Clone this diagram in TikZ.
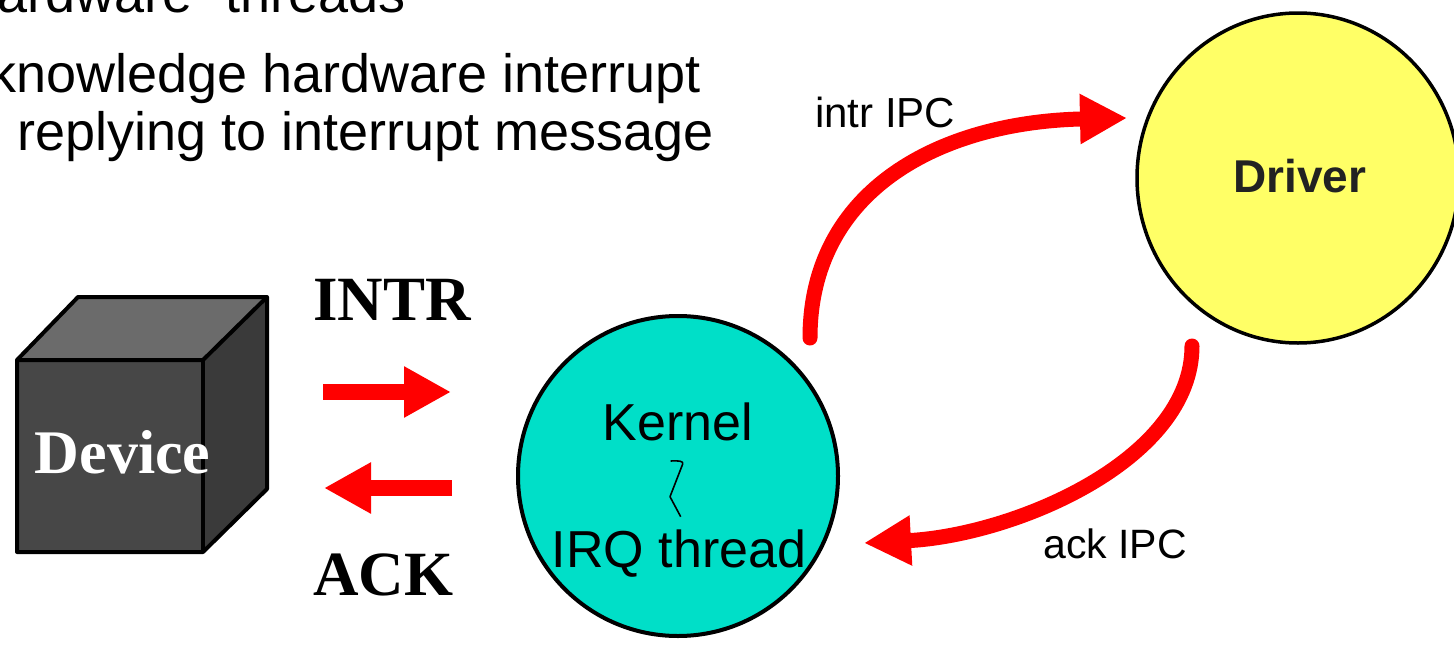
\documentclass[tikz,border=0pt]{standalone}
\usepackage{fontspec}
\setmainfont{Liberation Serif}
\setsansfont{Liberation Sans}
\usetikzlibrary{arrows.meta,shapes.geometric}
\definecolor{cubefront}{HTML}{474747}
\definecolor{cubetop}{HTML}{6B6B6B}
\definecolor{cubeside}{HTML}{3A3A3A}
\definecolor{kernelfill}{HTML}{00DFC8}
\definecolor{driverfill}{HTML}{FFFF66}
\definecolor{drivertext}{HTML}{222222}
\begin{document}
\begin{tikzpicture}[x=1pt,y=-1pt,
  bullet/.style={anchor=base west,inner sep=0pt,font=\sffamily\fontsize{54}{60}\selectfont},
  signal/.style={anchor=base west,inner sep=0pt,font=\rmfamily\bfseries\fontsize{63}{70}\selectfont},
  face/.style={draw=black,line width=4pt,line join=round},
  blockarrow/.style={draw=red,line width=16pt,-{Triangle[length=47pt,width=48pt]}},
  ipcarrow/.style={draw=red,line width=15pt,line cap=round,-{Triangle[length=47pt,width=47pt]}},
  ipclabel/.style={anchor=base west,inner sep=0pt,font=\sffamily\fontsize{41}{46}\selectfont},
  proc/.style={draw=black,line width=4pt,inner sep=0pt}
]
\useasboundingbox (0,0) rectangle (1454,648);

% bullet text
\node[bullet] (b1) at (-3,12) {ardware” threads};
\node[bullet] (b2) at (-11,92) {knowledge hardware interrupt};
\node[bullet] (b3) at (17,150) {replying to interrupt message};

% device cube
\fill[cubetop] (17,360) -- (78,297) -- (267,297) -- (203,360) -- cycle;
\fill[cubeside] (203,360) -- (267,297) -- (267,489) -- (203,552) -- cycle;
\fill[cubefront] (17,360) rectangle (203,552);
\draw[face] (17,360) -- (78,297) -- (267,297) -- (267,489) -- (203,552) -- (17,552) -- cycle;
\draw[face] (17,360) -- (203,360) -- (267,297);
\draw[face] (203,360) -- (203,552);
\node[text=white,font=\rmfamily\bfseries\fontsize{62}{68}\selectfont,inner sep=0pt,anchor=base] (device) at (122.5,473) {Device};

% signals between device and kernel
\node[signal] (intr) at (313,320) {INTR};
\node[signal] (ack) at (313,595) {ACK};
\coordinate (intrS) at (323,392);
\coordinate (intrE) at (451,392);
\coordinate (ackS) at (452,488);
\coordinate (ackE) at (324,488);
\draw[blockarrow] (intrS) -- (intrE);
\draw[blockarrow] (ackS) -- (ackE);

% kernel / IRQ thread
\node[proc,circle,fill=kernelfill,minimum size=320pt] (kernel) at (678,476) {};
\node[anchor=base,inner sep=0pt,font=\sffamily\fontsize{52}{58}\selectfont] (ktext) at (678,440) {Kernel};
\node[anchor=base,inner sep=0pt,font=\sffamily\fontsize{52}{58}\selectfont] (irq) at (679,567) {IRQ thread};
\draw[line width=1.6pt,line join=round] (670.7,461) .. controls (678,460.5) and (684,461) .. (682.7,464) -- (670,496.7) -- (680.7,516.7);

% driver
\node[proc,ellipse,fill=driverfill,minimum width=322pt,minimum height=330pt,line width=3.5pt] (driver) at (1298,178) {};
\node[anchor=base,inner sep=0pt,text=drivertext,font=\sffamily\bfseries\fontsize{46}{52}\selectfont] (dtext) at (1300,192) {Driver};

% IPC between kernel and driver
\coordinate (ipcUpS) at (810,338);
\coordinate (ipcUpE) at (1127,118);
\coordinate (ipcDnS) at (1192,346);
\coordinate (ipcDnE) at (864,543);
\draw[ipcarrow] (ipcUpS) .. controls (810,190) and (940,122) .. (ipcUpE);
\draw[ipcarrow] (ipcDnS) .. controls (1192,460) and (1015,535) .. (ipcDnE);
\node[ipclabel,font=\sffamily\fontsize{42}{46}\selectfont] (intripc) at (815,127) {intr IPC};
\node[ipclabel] (ackipc) at (1043,558) {ack IPC};
\end{tikzpicture}
\end{document}
